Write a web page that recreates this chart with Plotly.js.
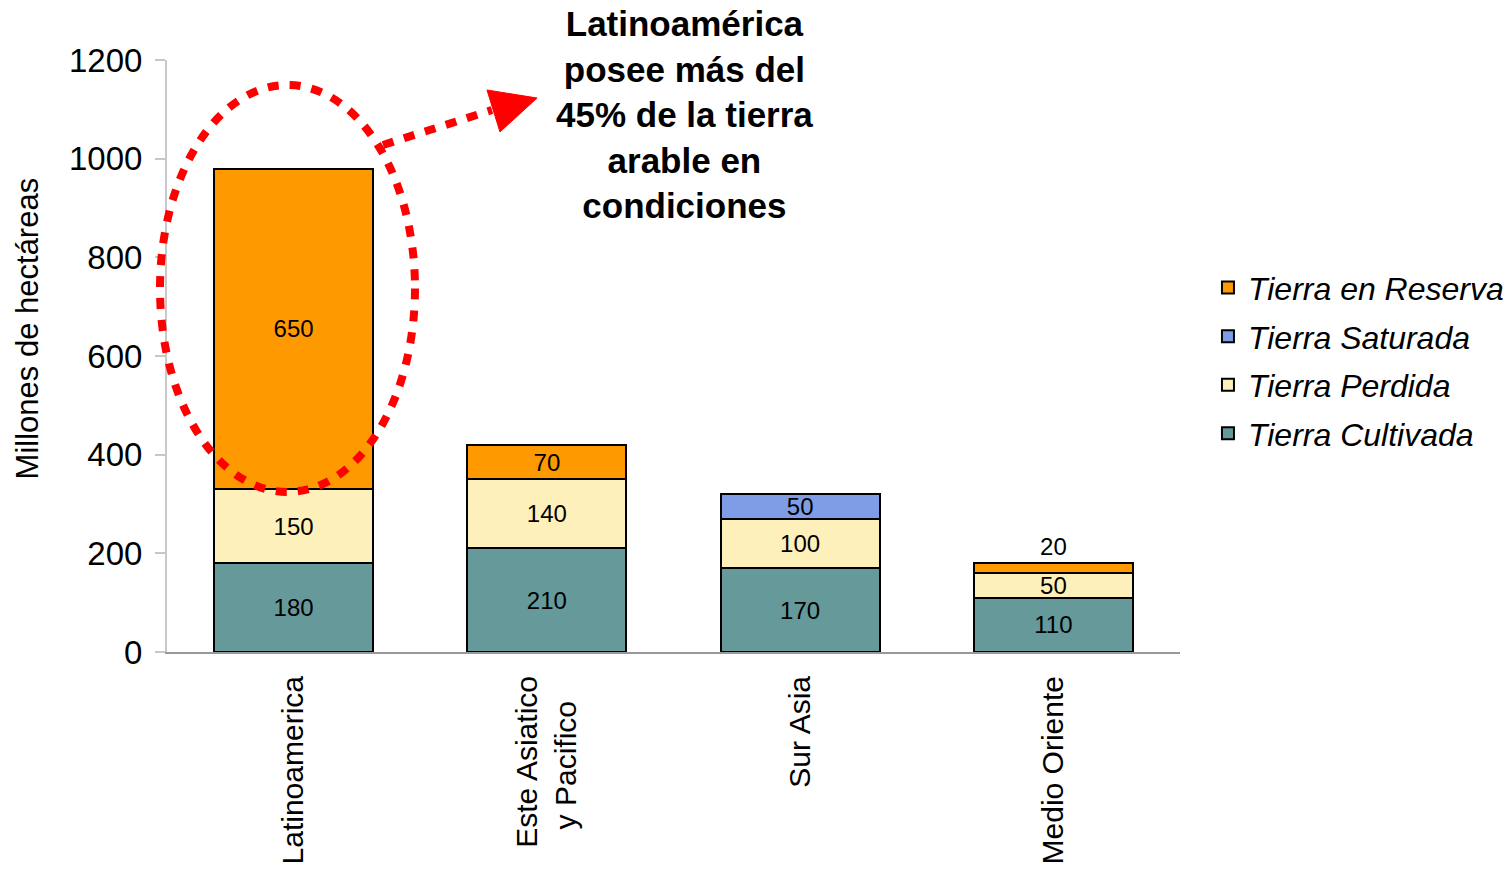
<!DOCTYPE html>
<html>
<head>
<meta charset="utf-8">
<script src="https://cdn.plot.ly/plotly-3.0.1.min.js"></script>
<style>html,body{margin:0;padding:0;background:#fff;}#chart{width:1511px;height:877px;}</style>
</head>
<body>
<div id="chart"></div>
<script>
const categories = ["Latinoamerica", "Este Asiatico y Pacifico", "Sur Asia", "Medio Oriente"];
const tickLabels = ["Latinoamerica", "Este Asiatico<br>y Pacifico&nbsp;&nbsp;&nbsp;", "Sur Asia", "Medio Oriente"];
const seriesNames = ["Tierra Cultivada", "Tierra Perdida", "Tierra Saturada", "Tierra en Reserva"];
const cultivada = [180, 210, 170, 110];
const perdida = [150, 140, 100, 50];
const saturada = [null, null, 50, null];
const reserva = [650, 70, null, 20];
const colors = ["#669999", "#FDF0BA", "#7F9DE6", "#FF9900"];
const yTicks = [0, 200, 400, 600, 800, 1000, 1200];
const annotationText = "Latinoamérica<br>posee más del<br>45% de la tierra<br>arable en<br>condiciones";
const yTitle = "Millones de hectáreas";

const FONT = "Liberation Sans, Arial, sans-serif";
const seriesValues = [cultivada, perdida, saturada, reserva];

const traces = seriesValues.map((vals, i) => ({
  type: "bar",
  name: seriesNames[i],
  legendgroup: "g" + i,
  legendrank: 1000 - i,
  x: categories,
  y: vals,
  text: vals.map(v => v == null ? "" : String(v)),
  textposition: i === 3 ? ["inside", "inside", "inside", "outside"] : "inside",
  insidetextanchor: "middle",
  textangle: 0,
  constraintext: "none",
  cliponaxis: false,
  textfont: {family: FONT, size: 24, color: "#000"},
  insidetextfont: {family: FONT, size: 24, color: "#000"},
  outsidetextfont: {family: FONT, size: 24, color: "#000"},
  marker: {color: colors[i], line: {color: "#000", width: 2}},
  hoverinfo: "skip"
}));

const layout = {
  width: 1511,
  height: 877,
  margin: {l: 167, r: 331, t: 60, b: 225, autoexpand: false},
  paper_bgcolor: "#fff",
  plot_bgcolor: "#fff",
  barmode: "stack",
  bargap: 0.372,
  font: {family: FONT, color: "#000"},
  showlegend: true,
  legend: {
    x: 1.0276, xanchor: "left", y: 0.492, yanchor: "middle",
    font: {family: FONT, size: 32, color: "#000", style: "italic"},
    traceorder: "grouped",
    tracegroupgap: 4,
    bgcolor: "rgba(0,0,0,0)"
  },
  xaxis: {
    type: "category",
    tickvals: categories,
    ticktext: tickLabels,
    tickangle: -90,
    tickfont: {family: FONT, size: 30, color: "#000"},
    ticklabelstandoff: 10,
    showline: true, linecolor: "#999999", linewidth: 2,
    ticks: "", showgrid: false, zeroline: false,
    fixedrange: true
  },
  yaxis: {
    range: [0, 1200],
    tickvals: yTicks,
    ticktext: yTicks.map(String),
    tickfont: {family: FONT, size: 33, color: "#000"},
    ticklabelstandoff: 6,
    showline: true, linecolor: "#C8C8C8", linewidth: 2,
    ticks: "outside", ticklen: 10, tickcolor: "#C8C8C8", tickwidth: 2,
    showgrid: false, zeroline: false,
    fixedrange: true
  },
  annotations: [
    {
      xref: "paper", yref: "paper", x: -0.138, y: 0.547,
      xanchor: "center", yanchor: "middle",
      text: yTitle, textangle: -90, showarrow: false,
      font: {family: FONT, size: 31, color: "#000"}
    },
    {
      xref: "paper", yref: "paper", x: 0.5104, y: 0.908,
      xanchor: "center", yanchor: "middle",
      text: "<b>" + annotationText + "</b>", showarrow: false, align: "center",
      font: {family: FONT, size: 35, color: "#000"}
    }
  ],
  shapes: [
    {
      type: "circle", xref: "paper", yref: "paper",
      x0: -0.0069, x1: 0.2448, y0: 0.2703, y1: 0.9578,
      line: {color: "#FF0000", width: 8, dash: "11px,11px"},
      layer: "above"
    },
    {
      type: "line", xref: "paper", yref: "paper",
      x0: 0.2132, y0: 0.8564, x1: 0.3208, y1: 0.9155,
      line: {color: "#FF0000", width: 8, dash: "11px,11px"},
      layer: "above"
    },
    {
      type: "path", xref: "paper", yref: "paper",
      path: "M0.3159,0.9493 L0.3653,0.9358 L0.3287,0.8784 Z",
      fillcolor: "#FF0000", line: {color: "#FF0000", width: 1},
      layer: "above"
    }
  ]
};

Plotly.newPlot("chart", traces, layout, {displayModeBar: false, staticPlot: true});
</script>
</body>
</html>
